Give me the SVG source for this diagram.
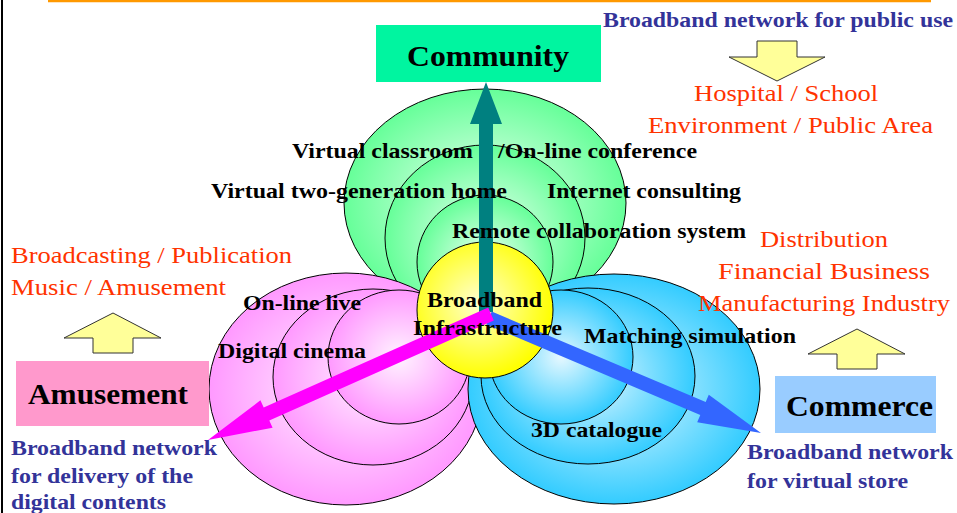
<svg xmlns="http://www.w3.org/2000/svg" width="957" height="513" viewBox="0 0 957 513">
<style>
.b{font-family:"Liberation Serif","Times New Roman",serif;font-weight:bold;fill:#000}
.n{font-family:"Liberation Serif","Times New Roman",serif;font-weight:bold;fill:#333399;font-size:22px}
.r{font-family:"Liberation Serif","Times New Roman",serif;fill:#FF3300;font-size:24px}
.l{font-size:22px}
.h{font-size:29px}
.el{stroke:#000;stroke-width:1}
.ya{fill:#FFFF99;stroke:#333;stroke-width:1}
</style>
<defs>
<radialGradient id="gG" cx="50%" cy="50%" r="50%"><stop offset="0" stop-color="#F0FFF4"/><stop offset="1" stop-color="#66FF99"/></radialGradient>
<radialGradient id="gP" cx="50%" cy="50%" r="50%"><stop offset="0" stop-color="#FFF4FF"/><stop offset="1" stop-color="#FF99FF"/></radialGradient>
<radialGradient id="gB" cx="50%" cy="50%" r="50%"><stop offset="0" stop-color="#E6F8FF"/><stop offset="1" stop-color="#33CCFF"/></radialGradient>
<radialGradient id="gY" cx="45%" cy="45%" r="55%"><stop offset="0" stop-color="#FFFFD0"/><stop offset="1" stop-color="#FFFF00"/></radialGradient>
</defs>
<rect width="957" height="513" fill="#fff"/>
<line x1="2" y1="0" x2="2" y2="513" stroke="#000" stroke-width="2"/>
<line x1="48" y1="1" x2="931" y2="1" stroke="#FF9900" stroke-width="2.5"/>

<g id="petal-community">
<ellipse class="el" cx="485" cy="203" rx="141" ry="114" fill="url(#gG)"/>
<ellipse class="el" cx="485" cy="238" rx="100" ry="93" fill="url(#gG)"/>
<ellipse class="el" cx="485" cy="262" rx="68" ry="67" fill="url(#gG)"/>
</g>
<g id="petal-amusement">
<ellipse class="el" cx="346" cy="389" rx="137" ry="116" fill="url(#gP)"/>
<ellipse class="el" cx="373" cy="377" rx="100" ry="88" fill="url(#gP)"/>
<ellipse class="el" cx="399" cy="357" rx="71" ry="67" fill="url(#gP)"/>
</g>
<g id="petal-commerce">
<ellipse class="el" cx="614" cy="389" rx="146" ry="115" fill="url(#gB)"/>
<ellipse class="el" cx="588" cy="376" rx="107" ry="88" fill="url(#gB)"/>
<ellipse class="el" cx="561" cy="357" rx="72" ry="67" fill="url(#gB)"/>
</g>
<g id="hub">
<circle class="el" cx="485" cy="310" r="68" fill="url(#gY)"/>
</g>

<g id="connectors">
<polygon fill="#008080" points="479,312 493,312 493,124 502,124 486,82 470,124 479,124"/>
<polygon fill="#3366FF" points="491.7,311.6 486.3,324.4 700.3,414.9 697.2,422.3 761,433 708.8,394.7 705.7,402.1"/>
<polygon fill="#FF00FF" points="488.2,307.6 493.8,320.4 269.3,420.4 272.6,427.7 208,440 260.4,400.3 263.7,407.6"/>
<polygon class="ya" points="757,41 797,41 797,57 825,57 777,81 729,57 757,57"/>
<polygon class="ya" points="113,313 161,338 133,338 133,353 93,353 93,338 64,338"/>
<polygon class="ya" points="857,329 905,354 877,354 877,369 837,369 837,354 808,354"/>
</g>

<g id="petal-labels">
<text class="b l" x="292" y="158" textLength="181" lengthAdjust="spacingAndGlyphs">Virtual classroom</text>
<text class="b l" x="498" y="158" textLength="199" lengthAdjust="spacingAndGlyphs">/On-line conference</text>
<text class="b l" x="211" y="198" textLength="296" lengthAdjust="spacingAndGlyphs">Virtual two-generation home</text>
<text class="b l" x="547" y="198" textLength="194" lengthAdjust="spacingAndGlyphs">Internet consulting</text>
<text class="b l" x="452" y="238" textLength="294" lengthAdjust="spacingAndGlyphs">Remote collaboration system</text>
<text class="b l" x="243" y="310" textLength="118" lengthAdjust="spacingAndGlyphs">On-line live</text>
<text class="b l" x="218" y="358" textLength="148" lengthAdjust="spacingAndGlyphs">Digital cinema</text>
<text class="b l" x="584" y="343" textLength="212" lengthAdjust="spacingAndGlyphs">Matching simulation</text>
<text class="b l" x="531" y="437" textLength="131" lengthAdjust="spacingAndGlyphs">3D catalogue</text>
</g>
<g id="hub-label">
<text class="b l" x="427" y="307" textLength="115" lengthAdjust="spacingAndGlyphs">Broadband</text>
<text class="b l" x="413" y="335" textLength="149" lengthAdjust="spacingAndGlyphs">Infrastructure</text>
</g>

<g id="community">
<rect x="376" y="25" width="225" height="57" fill="#00F5A0"/>
<text class="b h" x="407" y="66" textLength="162" lengthAdjust="spacingAndGlyphs">Community</text>
</g>
<g id="amusement">
<rect x="16" y="361" width="193" height="65" fill="#FF99CC"/>
<text class="b h" x="28" y="404" textLength="160" lengthAdjust="spacingAndGlyphs">Amusement</text>
</g>
<g id="commerce">
<rect x="775" y="376" width="161" height="57" fill="#99CCFF"/>
<text class="b h" x="786" y="416" textLength="147" lengthAdjust="spacingAndGlyphs">Commerce</text>
</g>

<g id="public-network">
<text class="n" x="603" y="27" textLength="350" lengthAdjust="spacingAndGlyphs">Broadband network for public use</text>
<text class="r" x="694" y="101" textLength="184" lengthAdjust="spacingAndGlyphs">Hospital / School</text>
<text class="r" x="648" y="133" textLength="285" lengthAdjust="spacingAndGlyphs">Environment / Public Area</text>
</g>
<g id="amusement-network">
<text class="r" x="11" y="263" textLength="281" lengthAdjust="spacingAndGlyphs">Broadcasting / Publication</text>
<text class="r" x="11" y="295" textLength="215" lengthAdjust="spacingAndGlyphs">Music / Amusement</text>
<text class="n" x="11" y="455" textLength="206" lengthAdjust="spacingAndGlyphs">Broadband network</text>
<text class="n" x="11" y="483" textLength="182" lengthAdjust="spacingAndGlyphs">for delivery of the</text>
<text class="n" x="11" y="509" textLength="155" lengthAdjust="spacingAndGlyphs">digital contents</text>
</g>
<g id="commerce-network">
<text class="r" x="760" y="247" textLength="128" lengthAdjust="spacingAndGlyphs">Distribution</text>
<text class="r" x="718" y="279" textLength="212" lengthAdjust="spacingAndGlyphs">Financial Business</text>
<text class="r" x="698" y="311" textLength="252" lengthAdjust="spacingAndGlyphs">Manufacturing Industry</text>
<text class="n" x="747" y="459" textLength="206" lengthAdjust="spacingAndGlyphs">Broadband network</text>
<text class="n" x="747" y="488" textLength="161" lengthAdjust="spacingAndGlyphs">for virtual store</text>
</g>
</svg>
